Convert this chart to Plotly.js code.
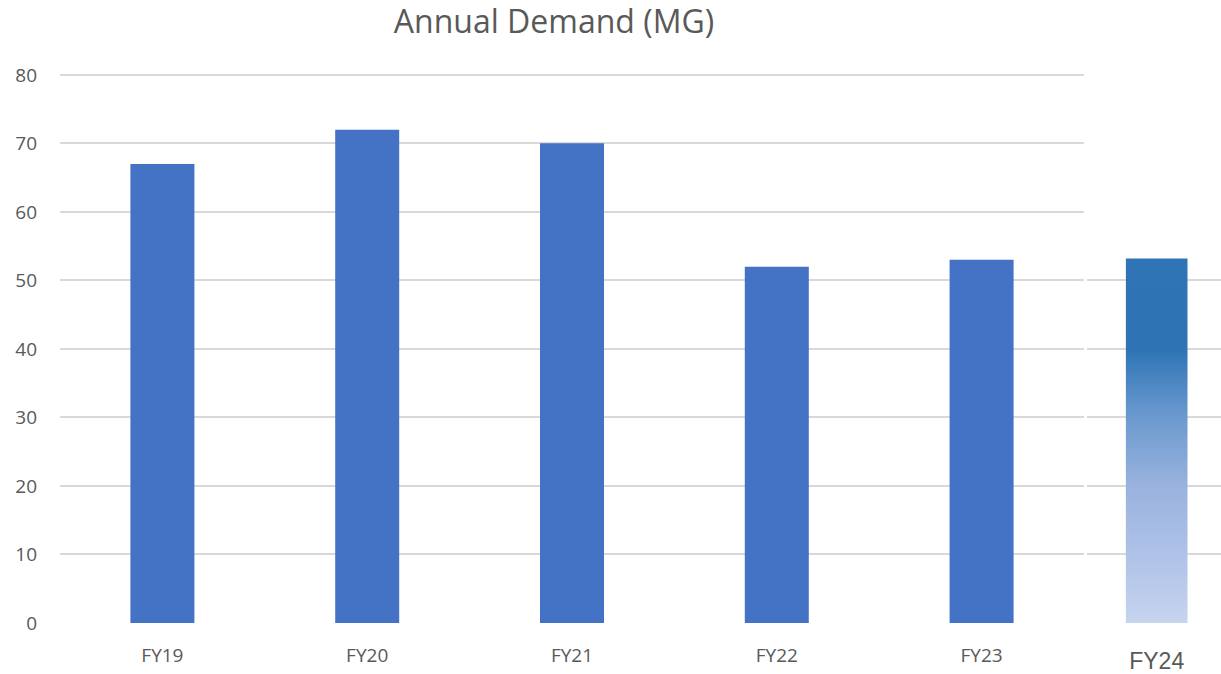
<!DOCTYPE html>
<html>
<head>
<meta charset="utf-8">
<script src="https://cdn.plot.ly/plotly-3.0.1.min.js"></script>
<style>html,body{margin:0;padding:0;background:#fff;}#chart{width:1221px;height:674px;}</style>
</head>
<body>
<div id="chart"></div>
<script>
// Data
const categories = ['FY19', 'FY20', 'FY21', 'FY22', 'FY23'];
const demand = [67, 72, 70, 52, 53];
const latestCategory = ['FY24'];
const latestDemand = [53.2];
const yTicks = [0, 10, 20, 30, 40, 50, 60, 70, 80];
const insetTicks = [0, 10, 20, 30, 40, 50];

const grey = '#595959';
const gridColor = '#d9d9d9';
const font = 'Open Sans, Lato, sans-serif';

// FY24 bar drawn as a filled polygon (vertical gradient) from the value
const half = 0.23;
const v = latestDemand[0];
const fy24 = {
  type: 'scatter', mode: 'lines', xaxis: 'x2', yaxis: 'y2',
  x: [-half, half, half, -half, -half],
  y: [0, 0, v, v, 0],
  fill: 'toself',
  line: {width: 0, color: 'rgba(0,0,0,0)'},
  fillgradient: {
    type: 'vertical', start: 0, stop: v,
    colorscale: [[0, '#c6d4ee'], [0.22, '#abbfe6'], [0.38, '#98b2de'], [0.57, '#6a99cf'], [0.75, '#2e74b5'], [1, '#2f75b6']]
  },
  hoverinfo: 'skip', showlegend: false
};

const main = {
  type: 'bar', x: categories, y: demand,
  marker: {color: '#4472c4', line: {width: 0}},
  showlegend: false
};

const layout = {
  width: 1221, height: 674,
  margin: {l: 60, r: 0, t: 68, b: 51},
  paper_bgcolor: '#ffffff', plot_bgcolor: '#ffffff',
  bargap: 0.6875,
  title: {
    text: 'Annual Demand (MG)',
    font: {family: font, size: 32, color: grey},
    xref: 'container', yref: 'container', x: 0.4537, y: 0.967,
    xanchor: 'center', yanchor: 'middle'
  },
  xaxis: {
    domain: [0, 0.882], type: 'category',
    showgrid: false, zeroline: false, showline: false, ticks: '',
    tickfont: {family: font, size: 19, color: grey},
    ticklabelstandoff: 19
  },
  yaxis: {
    range: [0, 81], tickvals: yTicks, ticktext: yTicks.map(String),
    showgrid: true, gridcolor: gridColor, gridwidth: 2,
    zeroline: false, showline: false, ticks: '',
    tickfont: {family: font, size: 19, color: grey},
    ticklabelstandoff: 22
  },
  xaxis2: {
    domain: [0.8846, 1], anchor: 'y2', range: [-0.52, 0.48],
    tickvals: [0], ticktext: latestCategory,
    showgrid: false, zeroline: false, showline: false, ticks: '',
    tickfont: {family: 'Liberation Sans, Arial, sans-serif', size: 23, color: grey},
    ticklabelstandoff: 22
  },
  yaxis2: {
    range: [0, 81], tickvals: insetTicks, anchor: 'x2',
    showgrid: true, gridcolor: gridColor, gridwidth: 2,
    zeroline: false, showline: false, showticklabels: false, ticks: ''
  }
};

Plotly.newPlot('chart', [main, fy24], layout, {displayModeBar: false, staticPlot: true});
</script>
</body>
</html>
